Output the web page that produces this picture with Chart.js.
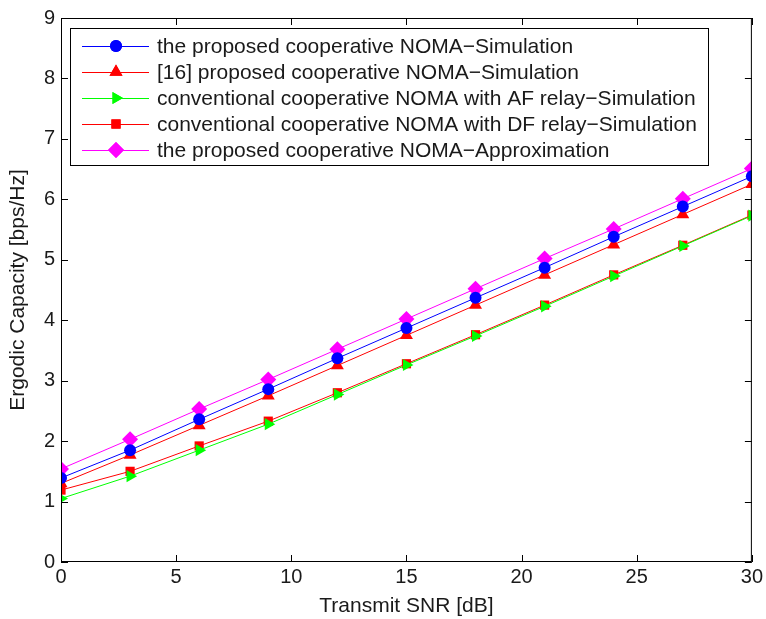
<!DOCTYPE html>
<html>
<head>
<meta charset="utf-8">
<script src="https://cdn.jsdelivr.net/npm/chart.js@4"></script>
<style>
  html, body { margin: 0; padding: 0; background: #fff; }
  #wrap { width: 766px; height: 619px; }
</style>
</head>
<body>
<div id="wrap"><canvas id="capacity_chart"></canvas></div>
<script>
const snr = [0, 3, 6, 9, 12, 15, 18, 21, 24, 27, 30];

const proposedSim = [1.39, 1.85, 2.36, 2.86, 3.37, 3.87, 4.37, 4.87, 5.38, 5.88, 6.38];
const ref16Sim    = [1.30, 1.77, 2.26, 2.75, 3.25, 3.75, 4.25, 4.75, 5.25, 5.75, 6.25];
const afSim       = [1.05, 1.42, 1.85, 2.28, 2.77, 3.26, 3.74, 4.23, 4.73, 5.23, 5.73];
const dfSim       = [1.19, 1.50, 1.92, 2.33, 2.80, 3.28, 3.76, 4.25, 4.75, 5.24, 5.74];
const proposedApx = [1.54, 2.03, 2.53, 3.02, 3.52, 4.02, 4.52, 5.02, 5.51, 6.01, 6.51];

const names = [
  'the proposed cooperative NOMA\u2212Simulation',
  '[16] proposed cooperative NOMA\u2212Simulation',
  'conventional cooperative NOMA with AF relay\u2212Simulation',
  'conventional cooperative NOMA with DF relay\u2212Simulation',
  'the proposed cooperative NOMA\u2212Approximation'
];

const FONT = '"Liberation Sans", Arial, sans-serif';

function pts(arr) {
  return arr.map((v, i) => ({ x: snr[i], y: v }));
}

function mk(label, arr, color, style, radius, rot) {
  return {
    label: label,
    data: pts(arr),
    borderColor: color,
    backgroundColor: color,
    borderWidth: 1,
    pointStyle: style,
    pointRadius: radius,
    pointRotation: rot || 0,
    pointBorderWidth: 0,
    pointBackgroundColor: color,
    tension: 0
  };
}

// draw order: later ones on top (magenta on top, as in the picture)
const datasets = [
  mk(names[2], afSim, '#00ff00', 'triangle', 7, 90),
  mk(names[3], dfSim, '#ff0000', 'rect', 6.5),
  mk(names[0], proposedSim, '#0000ff', 'circle', 6),
  mk(names[1], ref16Sim, '#ff0000', 'triangle', 7.5),
  mk(names[4], proposedApx, '#ff00ff', 'rectRot', 8)
];

// box + inward ticks, matlab style
const frame = {
  id: 'frame',
  afterDatasetsDraw(chart) {
    const c = chart.ctx, a = chart.chartArea;
    const xs = chart.scales.x, ys = chart.scales.y;
    c.save();
    c.strokeStyle = '#000';
    c.lineWidth = 1;
    c.strokeRect(a.left + 0.5, a.top + 0.5, a.right - a.left - 1, a.bottom - a.top - 1);
    c.beginPath();
    xs.ticks.forEach(t => {
      const px = Math.round(xs.getPixelForValue(t.value)) + 0.5;
      c.moveTo(px, a.bottom); c.lineTo(px, a.bottom - 7);
      c.moveTo(px, a.top); c.lineTo(px, a.top + 7);
    });
    ys.ticks.forEach(t => {
      const py = Math.round(ys.getPixelForValue(t.value)) + 0.5;
      c.moveTo(a.left, py); c.lineTo(a.left + 7, py);
      c.moveTo(a.right, py); c.lineTo(a.right - 7, py);
    });
    c.stroke();
    c.restore();
  }
};

// legend inside plot area
const boxLegend = {
  id: 'boxLegend',
  afterDraw(chart) {
    const c = chart.ctx, a = chart.chartArea;
    const map = {0: 2, 1: 3, 2: 0, 3: 1, 4: 4}; // names index -> dataset index
    const bx = a.left + 9, by = a.top + 10, bw = 638, bh = 137;
    c.save();
    c.fillStyle = '#fff';
    c.fillRect(bx, by, bw, bh);
    c.strokeStyle = '#000';
    c.lineWidth = 1;
    c.strokeRect(bx + 0.5, by + 0.5, bw, bh);
    c.font = '21px ' + FONT;
    c.textBaseline = 'middle';
    for (let i = 0; i < names.length; i++) {
      const ds = chart.data.datasets[map[i]];
      const y = by + 18 + i * 26;
      c.strokeStyle = ds.borderColor;
      c.beginPath();
      c.moveTo(bx + 12, y + 0.5); c.lineTo(bx + 79, y + 0.5);
      c.stroke();
      c.fillStyle = ds.borderColor;
      Chart.helpers.drawPoint(c, {
        pointStyle: ds.pointStyle, radius: ds.pointRadius, rotation: ds.pointRotation, borderWidth: 0
      }, bx + 46, y);
      c.fill();
      c.fillStyle = '#1a1a1a';
      c.fillText(names[i], bx + 87, y + 1);
    }
    c.restore();
  }
};

const ctx = document.getElementById('capacity_chart');

new Chart(ctx, {
  type: 'line',
  data: { datasets: datasets },
  options: {
    responsive: true,
    maintainAspectRatio: false,
    animation: false,
    layout: { padding: { top: 6, right: 12, left: 0, bottom: 0 } },
    plugins: {
      legend: { display: false },
      tooltip: { enabled: false }
    },
    scales: {
      x: {
        type: 'linear',
        min: 0,
        max: 30,
        ticks: { stepSize: 5, color: '#1a1a1a', font: { family: FONT, size: 20 }, padding: 3 },
        grid: { display: true, drawOnChartArea: false, tickLength: 0, color: '#000' },
        border: { display: false },
        title: { display: true, text: 'Transmit SNR [dB]', color: '#1a1a1a', font: { family: FONT, size: 21 }, padding: { top: 0, bottom: 0 } },
        afterFit(scale) { scale.height = 57; }
      },
      y: {
        min: 0,
        max: 9,
        ticks: { stepSize: 1, color: '#1a1a1a', font: { family: FONT, size: 20 }, padding: 6 },
        grid: { display: true, drawOnChartArea: false, tickLength: 0, color: '#000' },
        border: { display: false },
        title: { display: true, text: 'Ergodic Capacity [bps/Hz]', color: '#1a1a1a', font: { family: FONT, size: 21 }, padding: { top: 6, bottom: 0 } },
        afterFit(scale) { scale.width = 61; }
      }
    }
  },
  plugins: [frame, boxLegend]
});
</script>
</body>
</html>
